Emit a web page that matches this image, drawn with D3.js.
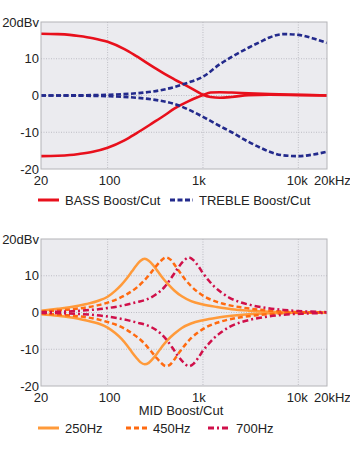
<!DOCTYPE html>
<html><head><meta charset="utf-8">
<script src="https://cdn.jsdelivr.net/npm/d3@7"></script>
<style>
html,body{margin:0;padding:0;background:#fff;}
svg{display:block;font-family:"Liberation Sans",Arial,Helvetica,sans-serif;}
</style></head>
<body>
<svg id="c" width="350" height="450"></svg>
<script>
// ---- data ----
const xTicks = [20, 100, 1000, 10000, 20000];
const xTickLabels = ["20", "100", "1k", "10k", "20kHz"];
const yTicks = [20, 10, 0, -10, -20];
const yTickLabels = ["20dBv", "10", "0", "-10", "-20"];

const bassFreq = [20, 30, 40, 50, 70, 100, 150, 200, 300, 400, 500, 700, 850, 1000, 1200, 1500, 2000, 3000, 5000, 10000, 20000];
const bassBoost = [16.8, 16.7, 16.5, 16.2, 15.6, 14.6, 12.6, 10.7, 7.8, 5.8, 4.4, 2.4, 1.2, 0.2, -0.4, -0.6, -0.4, 0.1, 0.2, 0.1, 0];
const bassCut = [-16.5, -16.4, -16.2, -15.9, -15.3, -14.2, -12.2, -10.3, -7.4, -5.3, -3.6, -1.6, -0.6, 0.1, 0.8, 0.9, 0.8, 0.6, 0.4, 0.2, 0];

const trebleFreq = [20, 50, 100, 200, 300, 500, 700, 1000, 1500, 2000, 3000, 4000, 5000, 7000, 10000, 14000, 20000];
const trebleBoost = [0, 0.05, 0.2, 0.6, 1.1, 2.3, 3.5, 5.1, 8.5, 10.5, 13.0, 14.6, 15.8, 16.7, 16.5, 15.6, 14.3];
const trebleCut = [0, -0.05, -0.2, -0.6, -1.1, -2.3, -3.8, -5.8, -8.3, -10.0, -12.6, -14.2, -15.3, -16.3, -16.5, -16.1, -15.3];

const mid250Freq = [20, 30, 40, 60, 80, 100, 120, 140, 160, 180, 200, 220, 245, 270, 300, 340, 380, 430, 500, 600, 750, 1000, 1400, 2000, 3000, 5000, 10000, 20000];
const mid250Boost = [0.5, 1.0, 1.4, 2.3, 3.2, 4.3, 5.9, 7.6, 9.4, 11.2, 12.8, 14.0, 14.6, 14.1, 12.9, 11.0, 9.3, 7.7, 6.0, 4.4, 3.1, 2.2, 1.5, 0.9, 0.5, 0.2, 0.05, 0];
const mid250Cut = [-0.5, -0.9, -1.3, -2.2, -3.0, -4.1, -5.6, -7.2, -9.0, -10.8, -12.3, -13.5, -14.1, -13.7, -12.5, -10.7, -9.0, -7.4, -5.8, -4.2, -3.0, -2.1, -1.4, -0.9, -0.5, -0.2, -0.05, 0];

const mid450Freq = [20, 40, 60, 80, 100, 130, 160, 200, 240, 280, 320, 360, 410, 460, 510, 570, 650, 750, 900, 1100, 1400, 1800, 2500, 3500, 5000, 10000, 20000];
const mid450Boost = [0.3, 0.8, 1.4, 2.0, 2.7, 3.8, 5.0, 6.7, 8.6, 10.6, 12.5, 14.0, 15.0, 14.3, 12.8, 11.0, 9.0, 7.2, 5.4, 4.0, 2.9, 2.1, 1.4, 0.9, 0.5, 0.1, 0];
const mid450Cut = [-0.3, -0.8, -1.3, -1.9, -2.6, -3.6, -4.8, -6.5, -8.3, -10.3, -12.1, -13.6, -14.6, -14.0, -12.5, -10.7, -8.8, -7.0, -5.3, -3.9, -2.8, -2.0, -1.3, -0.8, -0.4, -0.1, 0];

const mid700Freq = [20, 50, 100, 150, 200, 260, 320, 400, 470, 540, 620, 710, 800, 900, 1000, 1150, 1300, 1550, 1900, 2400, 3200, 4500, 7000, 12000, 20000];
const mid700Boost = [0.1, 0.45, 1.2, 2.0, 2.8, 3.6, 4.9, 7.1, 9.6, 11.9, 13.9, 15.0, 14.2, 12.5, 10.7, 8.7, 7.2, 5.5, 4.0, 2.9, 2.0, 1.3, 0.7, 0.3, 0.1];
const mid700Cut = [-0.1, -0.4, -1.1, -1.9, -2.7, -3.5, -4.7, -6.9, -9.3, -11.6, -13.5, -14.6, -13.9, -12.2, -10.4, -8.5, -7.0, -5.4, -3.9, -2.8, -1.9, -1.2, -0.6, -0.3, -0.1];

// ---- drawing ----
const svg = d3.select("#c");
const L = 41, R = 327;
const x = d3.scaleLog().domain([20, 20000]).range([L, R]);
const FS = 13;

function panel(top, bottom, series, id) {
  const y = d3.scaleLinear().domain([-20, 20]).range([bottom, top]);
  const g = svg.append("g");
  g.append("rect").attr("x", L).attr("y", top).attr("width", R - L).attr("height", bottom - top)
    .attr("fill", "#ebebef");
  g.append("clipPath").attr("id", id).append("rect")
    .attr("x", L).attr("y", top).attr("width", R - L).attr("height", bottom - top);
  // grid
  const grid = g.append("g");
  grid.selectAll("line.v").data([100, 1000, 10000]).join("line")
    .attr("x1", d => x(d)).attr("x2", d => x(d)).attr("y1", top).attr("y2", bottom)
    .attr("stroke", "#bdbdc4").attr("stroke-width", 1).attr("stroke-dasharray", "1,1.5");
  grid.selectAll("line.h").data([10, 0, -10]).join("line")
    .attr("x1", L).attr("x2", R).attr("y1", d => y(d)).attr("y2", d => y(d))
    .attr("stroke", "#bdbdc4").attr("stroke-width", 1).attr("stroke-dasharray", "1,1.5");
  // y labels
  g.selectAll("text.yl").data(yTicks).join("text")
    .attr("x", 39).attr("y", d => y(d)).attr("dy", "0.35em")
    .attr("text-anchor", "end").attr("font-size", FS).attr("fill", "#222")
    .text((d, i) => yTickLabels[i]);
  // x labels
  const dxs = [0, 2, -4, -1, 0];
  g.selectAll("text.xl").data(xTicks).join("text")
    .attr("x", (d, i) => i === 4 ? x(d) - 13 : x(d) + dxs[i])
    .attr("y", bottom + 11).attr("dy", "0.35em")
    .attr("text-anchor", (d, i) => i === 4 ? "start" : "middle")
    .attr("font-size", FS).attr("fill", "#222")
    .text((d, i) => xTickLabels[i]);
  // lines
  const lg = g.append("g").attr("clip-path", `url(#${id})`);
  series.forEach(s => {
    const pts = s.f.map((f, i) => [f, s.v[i]]);
    const line = d3.line().x(d => x(d[0])).y(d => y(d[1])).curve(d3.curveMonotoneX);
    lg.append("path").attr("d", line(pts)).attr("fill", "none")
      .attr("stroke", s.color).attr("stroke-width", s.w)
      .attr("stroke-dasharray", s.dash || null);
  });
  // border
  g.append("rect").attr("x", L).attr("y", top).attr("width", R - L).attr("height", bottom - top)
    .attr("fill", "none").attr("stroke", "#b4b4b8").attr("stroke-width", 1);
}

const RED = "#e8101c", NAVY = "#232a8c";
const C250 = "#ff9a3a", C450 = "#ff6a10", C700 = "#d0104a";
const D_TRE = "5,2.5", D_450 = "5,3", D_700 = "6,3,2,3";

panel(22, 169, [
  { f: bassFreq, v: bassBoost, color: RED, w: 2.6 },
  { f: bassFreq, v: bassCut, color: RED, w: 2.6 },
  { f: trebleFreq, v: trebleBoost, color: NAVY, w: 2.6, dash: D_TRE },
  { f: trebleFreq, v: trebleCut, color: NAVY, w: 2.6, dash: D_TRE }
], "clipTop");

panel(239, 386, [
  { f: mid250Freq, v: mid250Boost, color: C250, w: 2.5 },
  { f: mid250Freq, v: mid250Cut, color: C250, w: 2.5 },
  { f: mid450Freq, v: mid450Boost, color: C450, w: 2.5, dash: D_450 },
  { f: mid450Freq, v: mid450Cut, color: C450, w: 2.5, dash: D_450 },
  { f: mid700Freq, v: mid700Boost, color: C700, w: 2.5, dash: D_700 },
  { f: mid700Freq, v: mid700Cut, color: C700, w: 2.5, dash: D_700 }
], "clipBot");

// legends
function legendItem(x1, x2, ty, color, dash, label, w) {
  svg.append("line").attr("x1", x1).attr("x2", x2).attr("y1", ty).attr("y2", ty)
    .attr("stroke", color).attr("stroke-width", w).attr("stroke-dasharray", dash || null);
  svg.append("text").attr("x", x2 + 6).attr("y", ty).attr("dy", "0.35em")
    .attr("font-size", FS).attr("fill", "#222").text(label);
}
legendItem(38, 59, 200, RED, null, "BASS Boost/Cut", 3);
legendItem(170, 193, 200, NAVY, D_TRE, "TREBLE Boost/Cut", 3);

svg.append("text").attr("x", (L + R) / 2 - 3).attr("y", 410.5).attr("dy", "0.35em")
  .attr("text-anchor", "middle").attr("font-size", FS).attr("fill", "#222").text("MID Boost/Cut");
legendItem(38, 59, 428, C250, null, "250Hz", 3);
legendItem(126, 147, 428, C450, D_450, "450Hz", 3);
legendItem(208, 230, 428, C700, D_700, "700Hz", 3);
</script>
</body></html>
